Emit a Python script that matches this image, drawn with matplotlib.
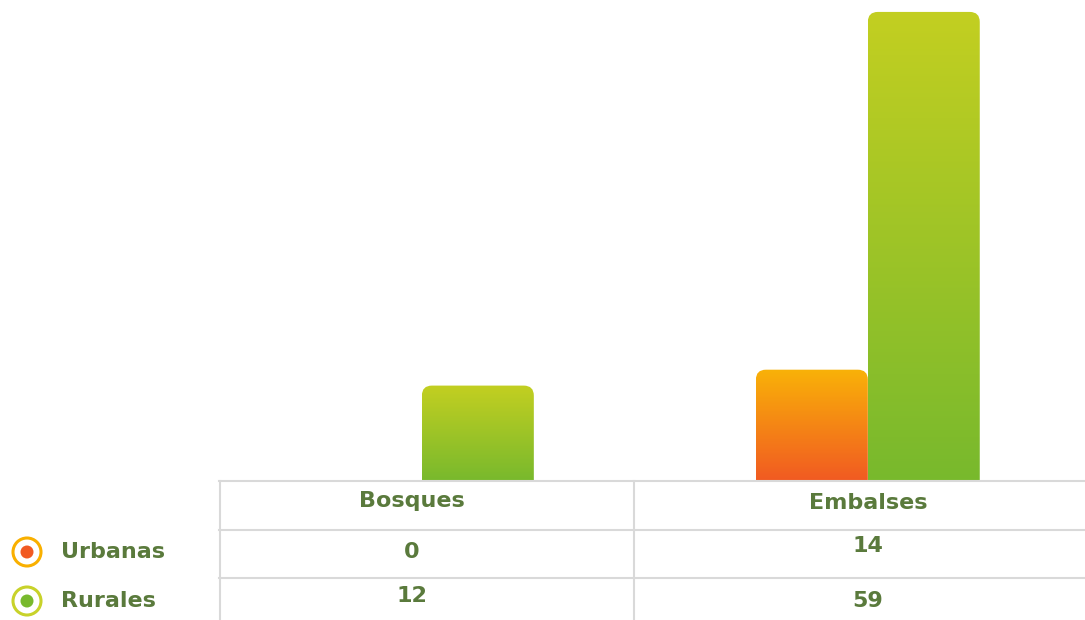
import numpy as np
import matplotlib
matplotlib.use("Agg")
import matplotlib.pyplot as plt
from matplotlib.patches import FancyBboxPatch, Circle
from matplotlib.colors import LinearSegmentedColormap

categories = ["Bosques", "Embalses"]
series_names = ["Urbanas", "Rurales"]
urbanas = [0, 14]
rurales = [12, 59]

TEXT = "#5a7a3c"
GRID = "#d9d9d9"
grad_urb = ("#f9b208", "#f15a22")   # top, bottom
grad_rur = ("#c3cf21", "#78b92d")
ring_urb = "#f9b000"
ring_rur = "#c8d22a"

W, H = 1085, 620
fig = plt.figure(figsize=(W / 100, H / 100), dpi=100)
base_px = 481
left_px = 219
XL = (-0.455, 1.487)
YT = 60.5
ax = fig.add_axes([left_px / W, (H - base_px) / H, (W - left_px) / W, base_px / H])
ax.set_xlim(*XL)
ax.set_ylim(0, YT)
ax.axis("off")

x = np.arange(len(categories))
bw = 0.251
px_per_x = (W - left_px) / (XL[1] - XL[0])
px_per_y = base_px / YT
r = 10 / px_per_x


def grad_bars(xpos, vals, cols):
    bars = ax.bar(xpos, vals, width=bw, color="none", linewidth=0)
    cmap = LinearSegmentedColormap.from_list("g", [cols[1], cols[0]])
    for b in bars:
        h = b.get_height()
        if h <= 0:
            continue
        x0, w = b.get_x(), b.get_width()
        patch = FancyBboxPatch((x0, -3), w, h + 3,
                               boxstyle=f"round,pad=0,rounding_size={r}",
                               mutation_aspect=px_per_x / px_per_y,
                               facecolor="none", edgecolor="none")
        ax.add_patch(patch)
        grad = np.linspace(0, 1, 256).reshape(-1, 1)
        im = ax.imshow(grad, extent=[x0, x0 + w, 0, h], origin="lower",
                       cmap=cmap, aspect="auto", zorder=2)
        im.set_clip_path(patch)


grad_bars(x - bw / 2, urbanas, grad_urb)
grad_bars(x + bw / 2, rurales, grad_rur)
ax.set_xlim(*XL)
ax.set_ylim(0, YT)

# Table axes (pixel offsets below baseline)
tax = fig.add_axes([left_px / W, 0, (W - left_px) / W, (H - base_px) / H])
tax.set_xlim(*XL)
tax.set_ylim(H - base_px, 0)
tax.axis("off")
col_split = 0.475
for yy in [0, 49, 97]:
    tax.plot(list(XL), [yy, yy], color=GRID, lw=1.5, clip_on=False)
for xx in [-0.452, col_split]:
    tax.plot([xx, xx], [0, H - base_px], color=GRID, lw=1.5, clip_on=False)

FS = 16
shift = [-0.022, 0.0]
hdr_y = [20, 22]
for i, c in enumerate(categories):
    tax.text(x[i] + shift[i], hdr_y[i], c, ha="center", va="center",
             fontsize=FS, fontweight="bold", color=TEXT, family="DejaVu Sans")
urb_y = [71, 65]
rur_y = [115, 120]
for i in range(len(categories)):
    tax.text(x[i] + shift[i], urb_y[i], str(urbanas[i]), ha="center", va="center",
             fontsize=FS, fontweight="semibold", color=TEXT, family="DejaVu Sans")
    tax.text(x[i] + shift[i], rur_y[i], str(rurales[i]), ha="center", va="center",
             fontsize=FS, fontweight="semibold", color=TEXT, family="DejaVu Sans")

# Legend in figure pixel coords
lax = fig.add_axes([0, 0, left_px / W, (H - base_px) / H])
lax.set_xlim(0, left_px)
lax.set_ylim(H - base_px, 0)
lax.set_aspect("equal")
lax.axis("off")
leg_y = [552 - base_px, 601 - base_px]
for yy, name, ring, g in zip(leg_y, series_names, [ring_urb, ring_rur], [grad_urb, grad_rur]):
    lax.add_patch(Circle((27, yy), 14, facecolor="none", edgecolor=ring, lw=2.2))
    lax.add_patch(Circle((27, yy), 6.5, facecolor=g[1], edgecolor="none"))
    lax.text(61, yy, name, ha="left", va="center", fontsize=FS, fontweight="bold",
             color=TEXT, family="DejaVu Sans")

fig.savefig("out.png", dpi=100)
